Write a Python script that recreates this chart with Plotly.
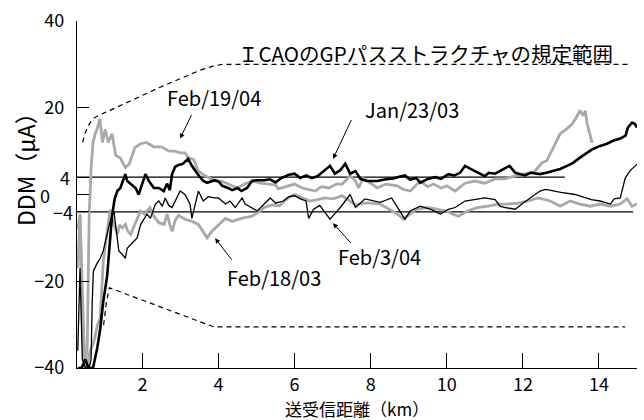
import plotly.graph_objects as go

# ---------------- data ----------------
x_feb1904 = [0.30, 0.36, 0.42, 0.48, 0.55, 0.60, 0.65, 0.70, 0.76, 0.82, 0.88, 0.95, 1.02, 1.10, 1.20, 1.30,
             1.42, 1.55, 1.65, 1.80, 1.95, 2.10, 2.30, 2.50, 2.70, 2.85, 3.00, 3.12, 3.20, 3.35, 3.47, 3.65,
             3.90, 4.10, 4.36, 4.50, 4.70, 4.90, 5.10, 5.30, 5.50, 5.57, 5.80, 6.00, 6.20, 6.54, 6.70, 6.90,
             7.10, 7.25, 7.46, 7.60, 7.68, 7.80, 8.00, 8.17, 8.40, 8.70, 8.85, 9.04, 9.12, 9.30, 9.50, 9.65,
             9.85, 10.00, 10.22, 10.48, 10.74, 11.00, 11.27, 11.53, 11.80, 12.06, 12.30, 12.50, 12.63, 12.80,
             12.98, 13.16, 13.30, 13.40, 13.50, 13.58, 13.64, 13.69, 13.77, 13.82]
y_feb1904 = [-17, -5, -30, -40, -35, -5, 6, 12, 14, 15.4, 17.5, 12, 15, 12, 14, 9,
             8.4, 6.2, 7, 10.8, 11.7, 12, 11, 11, 10, 10, 9.6, 9.6, 8.5, 8, 5.4, 4.3,
             3.1, 3, 2, 1.5, 2.5, 3.1, 2.6, 2.4, 2.2, 1.3, 1.8, 2.4, 1.5, 0.8, 1.8, 1.5,
             2.4, 2.4, 4.3, 3.1, 1.5, 3.8, 2.6, 1.5, 2.4, 2, 1.2, 0.8, 1.5, 3.1, 1.8, 2.4,
             1.5, 2, 0.8, 2.6, 3.1, 2.6, 3.6, 3.6, 4.3, 4.7, 5.2, 7.3, 7.8, 10.8,
             14, 15.2, 16.3, 17.7, 19.4, 18.2, 19.3, 16.3, 13.1, 11.9]

x_feb1803 = [0.30, 0.36, 0.42, 0.48, 0.55, 0.62, 0.68, 0.75, 0.82, 0.89, 0.97, 1.07, 1.15, 1.20, 1.34, 1.40,
             1.47, 1.55, 1.62, 1.69, 1.77, 1.86, 1.95, 2.05, 2.20, 2.30, 2.43, 2.57, 2.65, 2.72, 2.78, 2.86,
             2.95, 3.12, 3.30, 3.47, 3.60, 3.70, 3.82, 4.00, 4.18, 4.36, 4.60, 4.88, 5.10, 5.20, 5.40, 5.60,
             5.83, 6.00, 6.20, 6.40, 6.60, 6.80, 7.00, 7.25, 7.46, 7.60, 7.80, 8.00, 8.25, 8.50, 8.70, 8.86,
             9.04, 9.20, 9.50, 9.75, 10.00, 10.15, 10.30, 10.55, 10.80, 11.09, 11.35, 11.60, 11.88, 12.14,
             12.40, 12.72, 12.98, 13.24, 13.50, 13.77, 14.03, 14.30, 14.56, 14.74, 14.87, 15.00]
y_feb1803 = [-8, -4.5, -22, -38, -40, -36, -35, -33, -30, -28.6, -15.4, -9.2, -3.5, -5.5, -9.2, -7,
             -7.7, -6.9, -8.5, -9.2, -7.5, -5.5, -3.8, -4.5, -3, -5, -6.5, -6.9, -4.5, -7, -8.5, -6,
             -4.8, -5.7, -6.2, -6.9, -8.5, -10, -8.5, -6.9, -5.5, -6.2, -5.5, -5, -3.8, -3, -2.4, -2.6,
             -0.8, 0, -0.8, -1.5, -1.2, -0.8, -1, -0.3, -1.5, -2.5, -2, -2, -2.2, -3.4, -4.5, -5.7,
             -4.5, -3.4, -3, -3.4, -3.8, -4.5, -5, -3.8, -3, -2.7, -2.2, -2.2, -2, -1.5,
             -0.8, -1.5, -2.7, -1.5, -2.2, -2.7, -2.2, -2.7, -2.2, -1, -2.7, -2.2]

x_jan2303 = [0.30, 0.40, 0.50, 0.58, 0.70, 0.81, 0.89, 0.97, 1.07, 1.15, 1.20, 1.27, 1.34, 1.42, 1.55, 1.60,
             1.69, 1.82, 1.90, 1.99, 2.08, 2.17, 2.30, 2.43, 2.56, 2.65, 2.72, 2.78, 2.86, 2.95, 3.05, 3.20,
             3.30, 3.47, 3.60, 3.70, 3.90, 4.00, 4.10, 4.25, 4.36, 4.50, 4.60, 4.75, 4.88, 5.00, 5.20, 5.35,
             5.50, 5.65, 5.83, 6.00, 6.15, 6.30, 6.45, 6.60, 6.84, 6.93, 7.06, 7.20, 7.33, 7.46, 7.60, 7.73,
             7.90, 8.17, 8.40, 8.60, 8.75, 8.90, 9.04, 9.20, 9.30, 9.50, 9.70, 9.85, 10.04, 10.20, 10.35,
             10.48, 10.60, 10.80, 11.00, 11.10, 11.27, 11.50, 11.65, 11.80, 12.06, 12.20, 12.45, 12.62,
             12.80, 12.98, 13.16, 13.32, 13.50, 13.69, 13.84, 14.03, 14.21, 14.37, 14.56, 14.70, 14.76,
             14.87, 14.94, 15.00]
y_jan2303 = [-40, -40, -38, -40, -40, -35.5, -31, -24.7, -19, -11, -5, -1, 0.8, 1.5, 4.7, 3.1,
             2.4, 1.5, 0, 2.4, 4.7, 3.1, 1.5, 1.5, 0.8, 2.5, 1, 4.7, 6.4, 6.8, 7, 8.2,
             6.6, 4.5, 3.1, 2.7, 3.3, 3, 2, 1.5, 1, 1.5, 0.8, 1.5, 3.1, 3.3, 3.3, 3.5,
             2.8, 3.8, 4.5, 4.8, 3.8, 4.4, 3.8, 4.2, 5.8, 6.6, 4.8, 5.6, 7.1, 4.8, 5.4, 3.6,
             3.1, 3.1, 3.5, 3.7, 4.1, 4.4, 3.4, 3.8, 2.7, 3.6, 4, 3.6, 4.7, 4.4, 5,
             6.6, 6, 5, 4.2, 5, 4.8, 5.9, 6.6, 5, 4.4, 5, 4.7, 5,
             5.4, 5.9, 6.6, 7.3, 8.5, 9.6, 10.5, 11.2, 11.7, 12.4, 12.9, 13.6, 15.4,
             16.6, 16.3, 15.4]

x_feb0304 = [0.30, 0.36, 0.42, 0.50, 0.60, 0.65, 0.68, 0.71, 0.80, 0.89, 0.97, 1.07, 1.15, 1.25, 1.34, 1.38,
             1.47, 1.55, 1.60, 1.69, 1.77, 1.86, 1.95, 2.04, 2.12, 2.21, 2.34, 2.43, 2.52, 2.60, 2.69, 2.78,
             2.86, 2.99, 3.12, 3.25, 3.30, 3.47, 3.60, 3.73, 3.90, 4.00, 4.18, 4.30, 4.44, 4.62, 4.70, 4.88,
             5.02, 5.20, 5.36, 5.50, 5.70, 5.85, 6.00, 6.15, 6.30, 6.37, 6.50, 6.66, 6.93, 7.10, 7.20, 7.46,
             7.50, 7.60, 7.85, 8.25, 8.55, 8.70, 8.90, 9.04, 9.30, 9.60, 9.83, 10.04, 10.22, 10.48, 10.74,
             11.00, 11.27, 11.40, 11.53, 11.80, 12.00, 12.20, 12.45, 12.60, 12.80, 13.00, 13.37, 13.63,
             13.80, 14.03, 14.30, 14.40, 14.56, 14.69, 14.82, 15.00]
y_feb0304 = [-36, -17, -38, -40, -40, -38, -24.7, -17.7, -16, -14.7, -13, -9.2, -6.2, -3.8, -10, -13,
             -13.8, -14.7, -12.4, -11.6, -10.8, -10, -7, -5.5, -4.5, -5.5, -2.2, -1.5, -2.7, -0.8, -2.5, -3,
             -1.5, 0.8, 0, -2.2, -5.5, 0.8, -1.5, -0.5, -0.8, -0.8, -2.2, -1.5, -3, -0.8, -2.2, -3,
             -3.8, -2.2, -0.8, -2, -1.5, -0.5, -0.3, -1, -1.5, -5.5, -3.4, -2.5, -5.7, -4, -3, 0,
             -0.8, -3, -1, -1.8, -0.8, -3, -5.7, -3.8, -2.7, -3.5, -4.5, -3.4, -3, -1.5, -1.2,
             -0.8, -1.2, -2.7, -3, -3.4, -2, -0.8, 0.8, 1.2, 0.8, 0.5, 0, -0.8,
             -1.2, -1.5, -2.2, -1, -0.8, 3.8, 5.5, 7]

# ICAO GP path structure limits (dashed envelope)
x_env_up = [0.43, 0.50, 0.58, 0.70, 0.89, 1.15, 2.38, 3.50, 3.85, 4.10, 14.80]
y_env_up = [12, 14.3, 15.9, 17.5, 18.4, 19.4, 24.4, 28.6, 29.6, 30, 30]
x_env_lo = [0.98, 1.05, 1.13, 3.52, 3.87, 14.69]
y_env_lo = [-30.1, -25, -21.5, -29.4, -30.5, -30.5]

# +-4 uA reference lines
x_ref_p4 = [0.28, 13.1]
y_ref_p4 = [4, 4]
x_ref_m4 = [0.28, 14.9]
y_ref_m4 = [-4, -4]

x_ticks = [2, 4, 6, 8, 10, 12, 14]
y_ticks = [-40, -20, -4, 0, 4, 20, 40]
y_ticktext = ["\u221240", "\u221220", "", "", "", "20", "40"]
# the crowded labels near zero are set individually
y_small_vals = [4, 0, -4]
y_small_text = ["4", "0", "\u22124"]

labels = ["Feb/19/04", "Jan/23/03", "Feb/3/04", "Feb/18/03"]
title_text = "\uff29CAOのGPパスストラクチャの規定範囲"
x_title = "送受信距離（km）"
y_title = "DDM（μA）"

FONT = "Noto Sans CJK JP"
GRAY = "#a9a9a9"

# plot-area geometry (pixels)
L, R, T, B = 77, 7, 21, 52
PW = 644 - L - R
PH = 420 - T - B

fig = go.Figure()

for xs, ys in [(x_ref_p4, y_ref_p4), (x_ref_m4, y_ref_m4)]:
    fig.add_trace(go.Scatter(x=xs, y=ys, mode="lines", line=dict(color="black", width=1.2),
                             hoverinfo="skip", showlegend=False))
for xs, ys in [(x_env_up, y_env_up), (x_env_lo, y_env_lo)]:
    fig.add_trace(go.Scatter(x=xs, y=ys, mode="lines",
                             line=dict(color="black", width=1.2, dash="5px,4px"),
                             hoverinfo="skip", showlegend=False))

fig.add_trace(go.Scatter(x=x_feb1803, y=y_feb1803, mode="lines", name=labels[3],
                         line=dict(color=GRAY, width=2.8)))
fig.add_trace(go.Scatter(x=x_feb1904, y=y_feb1904, mode="lines", name=labels[0],
                         line=dict(color=GRAY, width=2.8)))
fig.add_trace(go.Scatter(x=x_feb0304, y=y_feb0304, mode="lines", name=labels[2],
                         line=dict(color="black", width=1.3)))
fig.add_trace(go.Scatter(x=x_jan2303, y=y_jan2303, mode="lines", name=labels[1],
                         line=dict(color="black", width=2.6)))

# label annotations with arrows: text centre, arrow tail, arrow tip (data coords)
text_pos = [(3.88, 22.4), (9.09, 19.6), (8.22, -14.3), (5.46, -19.1)]
arrow_tail = [(3.31, 18.7), (7.51, 17.5), (7.51, -11.5), (4.38, -15.4)]
arrow_tip = [(2.99, 12.9), (7.01, 8.2), (7.01, -6.6), (3.91, -10.1)]
for t, (tx, ty), (sx, sy), (ex, ey) in zip(labels, text_pos, arrow_tail, arrow_tip):
    fig.add_annotation(x=ex, y=ey, ax=sx, ay=sy, xref="x", yref="y", axref="x", ayref="y",
                       text="", showarrow=True, arrowhead=2, arrowsize=1.0, arrowwidth=1,
                       arrowcolor="black")
    fig.add_annotation(x=tx, y=ty, xref="x", yref="y", text=t, showarrow=False,
                       xanchor="center", yanchor="middle",
                       font=dict(family=FONT, size=20, color="black"))

fig.add_annotation(x=9.43, y=32.6, xref="x", yref="y", text=title_text,
                   showarrow=False, xanchor="center", yanchor="middle",
                   font=dict(family=FONT, size=20.5, color="black"))

# small tick labels near zero (right edges in pixels)
for v, t, right_px in zip(y_small_vals, y_small_text, [72, 52, 75]):
    fig.add_annotation(x=(right_px - L) / PW, y=v, xref="paper", yref="y", text=t,
                       showarrow=False, xanchor="right", yanchor="middle",
                       font=dict(family=FONT, size=18, color="black"))

fig.add_annotation(x=0.5, y=(T + PH - 408) / PH, xref="paper", yref="paper", text=x_title,
                   showarrow=False, xanchor="center", yanchor="middle",
                   font=dict(family=FONT, size=17, color="black"))
fig.add_annotation(x=(25 - L) / PW, y=(T + PH - 164) / PH, xref="paper", yref="paper",
                   text=y_title, showarrow=False, xanchor="center", yanchor="middle",
                   textangle=-90, font=dict(family=FONT, size=23, color="black"))

fig.update_layout(
    width=644, height=420,
    margin=dict(l=L, r=R, t=T, b=B),
    paper_bgcolor="white", plot_bgcolor="white",
    showlegend=False,
    font=dict(family=FONT, size=18, color="black"),
    xaxis=dict(range=[0.28, 15], tickvals=x_ticks, ticks="inside", ticklen=15, tickwidth=1,
               tickcolor="black", showline=True, linecolor="black", linewidth=1.2,
               showgrid=False, zeroline=False, tickfont=dict(family=FONT, size=18)),
    yaxis=dict(range=[-40, 40], tickvals=y_ticks, ticktext=y_ticktext, ticks="inside",
               ticklen=12, tickwidth=1, tickcolor="black", showline=True, linecolor="black",
               linewidth=1.2, showgrid=False, zeroline=False, ticklabelstandoff=8,
               tickfont=dict(family=FONT, size=18)),
)

fig.write_html("out.html")
